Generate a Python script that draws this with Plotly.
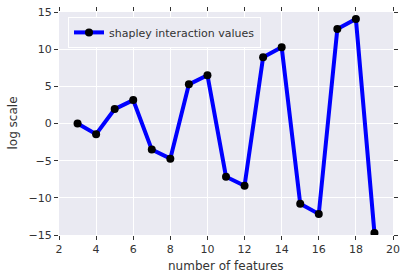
import plotly.graph_objects as go

features = [3, 4, 5, 6, 7, 8, 9, 10, 11, 12, 13, 14, 15, 16, 17, 18, 19]
values = [0.0, -1.44, 1.94, 3.15, -3.51, -4.73, 5.27, 6.49, -7.16, -8.38,
          8.92, 10.27, -10.81, -12.16, 12.70, 14.05, -14.73]
x_ticks = [2, 4, 6, 8, 10, 12, 14, 16, 18, 20]
y_ticks = [-15, -10, -5, 0, 5, 10, 15]
y_tick_text = ["\u221215", "\u221210", "\u22125", "0", "5", "10", "15"]

fig = go.Figure()
fig.add_trace(go.Scatter(
    x=features, y=values, mode="lines+markers",
    name="shapley interaction values",
    line=dict(color="#0000FF", width=4),
    marker=dict(color="black", size=8),
))

font = "DejaVu Sans, sans-serif"
axis_common = dict(
    showgrid=True, gridcolor="white", gridwidth=1,
    zeroline=False, showline=False,
    ticks="outside", ticklen=4, tickwidth=1, tickcolor="#333333",
    mirror="ticks", automargin=False,
    tickfont=dict(family=font, size=11, color="#333333"),
)

fig.update_layout(
    width=407, height=280,
    margin=dict(l=59, r=14, t=12, b=45),
    paper_bgcolor="white", plot_bgcolor="#EAEAF2",
    showlegend=True,
    legend=dict(x=0.027, y=0.978, xanchor="left", yanchor="top",
                bgcolor="#EAEAF2", bordercolor="white", borderwidth=1,
                font=dict(family=font, size=11, color="#333333"),
                itemwidth=30),
    xaxis=dict(range=[2, 20], tickvals=x_ticks, **axis_common),
    yaxis=dict(range=[-15, 15], tickvals=y_ticks, ticktext=y_tick_text,
               **axis_common),
    annotations=[
        dict(text="number of features", xref="paper", yref="paper",
             x=0.5, y=0, xanchor="center", yanchor="middle", yshift=-31,
             showarrow=False,
             font=dict(family=font, size=12, color="#333333")),
        dict(text="log scale", xref="paper", yref="paper",
             x=0, y=0.5, xanchor="center", yanchor="middle", xshift=-47,
             textangle=-90, showarrow=False,
             font=dict(family=font, size=12, color="#333333")),
    ],
)

fig.write_html("out.html",
               config={"displayModeBar": False},
               post_script="document.body.style.margin='0';")
